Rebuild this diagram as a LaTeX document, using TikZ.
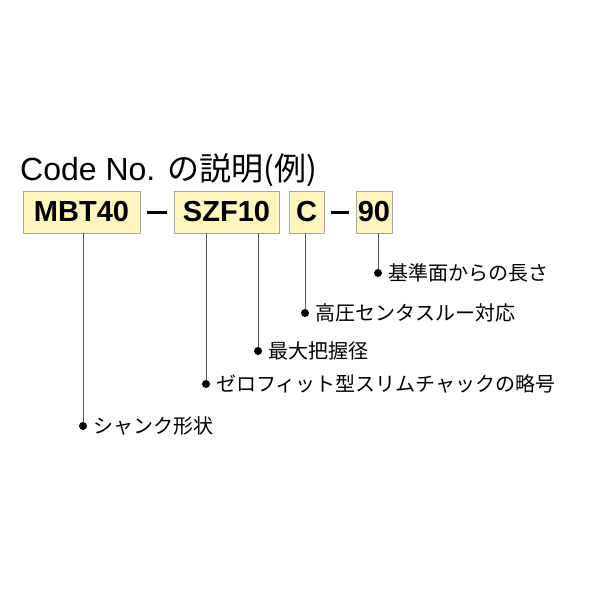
\documentclass[tikz,border=0pt]{standalone}
\usepackage{fontspec}
\setmainfont{Liberation Sans}
\newfontfamily\jpfont{Noto Sans CJK JP}
\definecolor{boxfill}{RGB}{255,245,190}
\tikzset{
  codebox/.style={draw=gray!70,fill=boxfill,line width=0.8pt,minimum height=42pt,inner sep=0pt,font=\fontsize{29}{29}\selectfont\bfseries},
  dotmark/.style={circle,fill=black,inner sep=0pt,minimum size=8pt},
  lbl/.style={anchor=west,inner sep=0pt,font=\jpfont\fontsize{20}{20}\selectfont},
}
\begin{document}
\begin{tikzpicture}[x=1pt,y=-1pt]
\useasboundingbox (0,0) rectangle (600,600);

\node[anchor=base west,inner sep=0pt,font=\fontsize{32}{32}\selectfont] (title) at (20,180) {Code No. {\jpfont の説明(例)}};

\node[codebox,minimum width=117pt] (mbt) at (81.5,212) {MBT40};
\node[codebox,minimum width=105pt] (szf) at (226.5,212) {SZF10};
\node[codebox,minimum width=35pt] (cc) at (306.5,212) {C};
\node[codebox,minimum width=36pt] (nn) at (374,212) {90};

\draw[line width=3pt] (147,212) -- (167,212);
\draw[line width=3pt] (331,212) -- (349,212);

\node[dotmark] (d1) at (83,426) {};
\node[dotmark] (d2) at (206,384) {};
\node[dotmark] (d3) at (258,351) {};
\node[dotmark] (d4) at (305,313) {};
\node[dotmark] (d5) at (378,273) {};

\node[lbl] (l1) at (93,426) {シャンク形状};
\node[lbl] (l2) at (216,384) {ゼロフィット型スリムチャックの略号};
\node[lbl] (l3) at (268,351) {最大把握径};
\node[lbl] (l4) at (315,313) {高圧センタスルー対応};
\node[lbl] (l5) at (388,273) {基準面からの長さ};

\draw[gray!70!black,line width=0.8pt] (mbt.south -| d1) -- (d1);
\draw[gray!70!black,line width=0.8pt] (szf.south -| d2) -- (d2);
\draw[gray!70!black,line width=0.8pt] (szf.south -| d3) -- (d3);
\draw[gray!70!black,line width=0.8pt] (cc.south -| d4) -- (d4);
\draw[gray!70!black,line width=0.8pt] (nn.south -| d5) -- (d5);
\end{tikzpicture}
\end{document}
